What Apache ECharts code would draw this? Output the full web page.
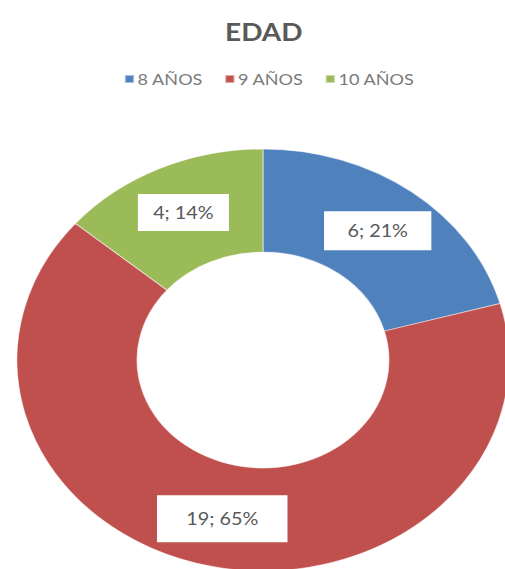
<!DOCTYPE html>
<html>
<head>
<meta charset="utf-8">
<script src="https://cdn.jsdelivr.net/npm/echarts@6/dist/echarts.min.js"></script>
<style>
  html, body { margin: 0; padding: 0; background: #fff; overflow: hidden; }
  /* the chart is drawn on a narrower canvas and widened to the page width */
  #chart { width: 433px; height: 569px; transform: scaleX(1.1663); transform-origin: 0 0; }
</style>
</head>
<body>
<div id="chart"></div>
<script>
// Age groups and number of children in each
const categories = ['8 AÑOS', '9 AÑOS', '10 AÑOS'];
const counts = [6, 19, 4];
const chartTitle = 'EDAD';

// Slice colours and the padding of each value box
const sliceColors = ['#4F81BD', '#C0504D', '#9BBB59'];
const labelPadding = [[11, 20], [15, 25], [10, 13]];

const chart = echarts.init(document.getElementById('chart'), null, { renderer: 'svg' });

const pieData = categories.map((name, i) => ({
  name: name,
  value: counts[i],
  itemStyle: { color: sliceColors[i] },
  label: { padding: labelPadding[i] }
}));

chart.setOption({
  animation: false,
  title: {
    text: chartTitle,
    left: 188,
    top: 15,
    textStyle: { fontFamily: 'Lato', fontWeight: 'bold', fontSize: 24, color: '#595959' }
  },
  legend: {
    data: categories,
    left: 101,
    top: 66,
    itemWidth: 8,
    itemHeight: 8,
    itemGap: 18,
    icon: 'rect',
    textStyle: { fontFamily: 'Lato', fontSize: 15.5, color: '#7a7a7a', padding: [0, 0, 0, -2] }
  },
  series: [{
    type: 'pie',
    center: [225.5, 360],
    radius: [108, 211],
    startAngle: 90,
    clockwise: true,
    percentPrecision: 0,
    avoidLabelOverlap: false,
    itemStyle: { borderColor: 'rgba(255,255,255,0.5)', borderWidth: 1 },
    label: {
      show: true,
      position: 'inside',
      formatter: '{c}; {d}%',
      fontFamily: 'Lato',
      fontSize: 17,
      color: '#595959',
      backgroundColor: '#ffffff'
    },
    labelLine: { show: false },
    emphasis: { disabled: true },
    data: pieData
  }]
});
</script>
</body>
</html>
